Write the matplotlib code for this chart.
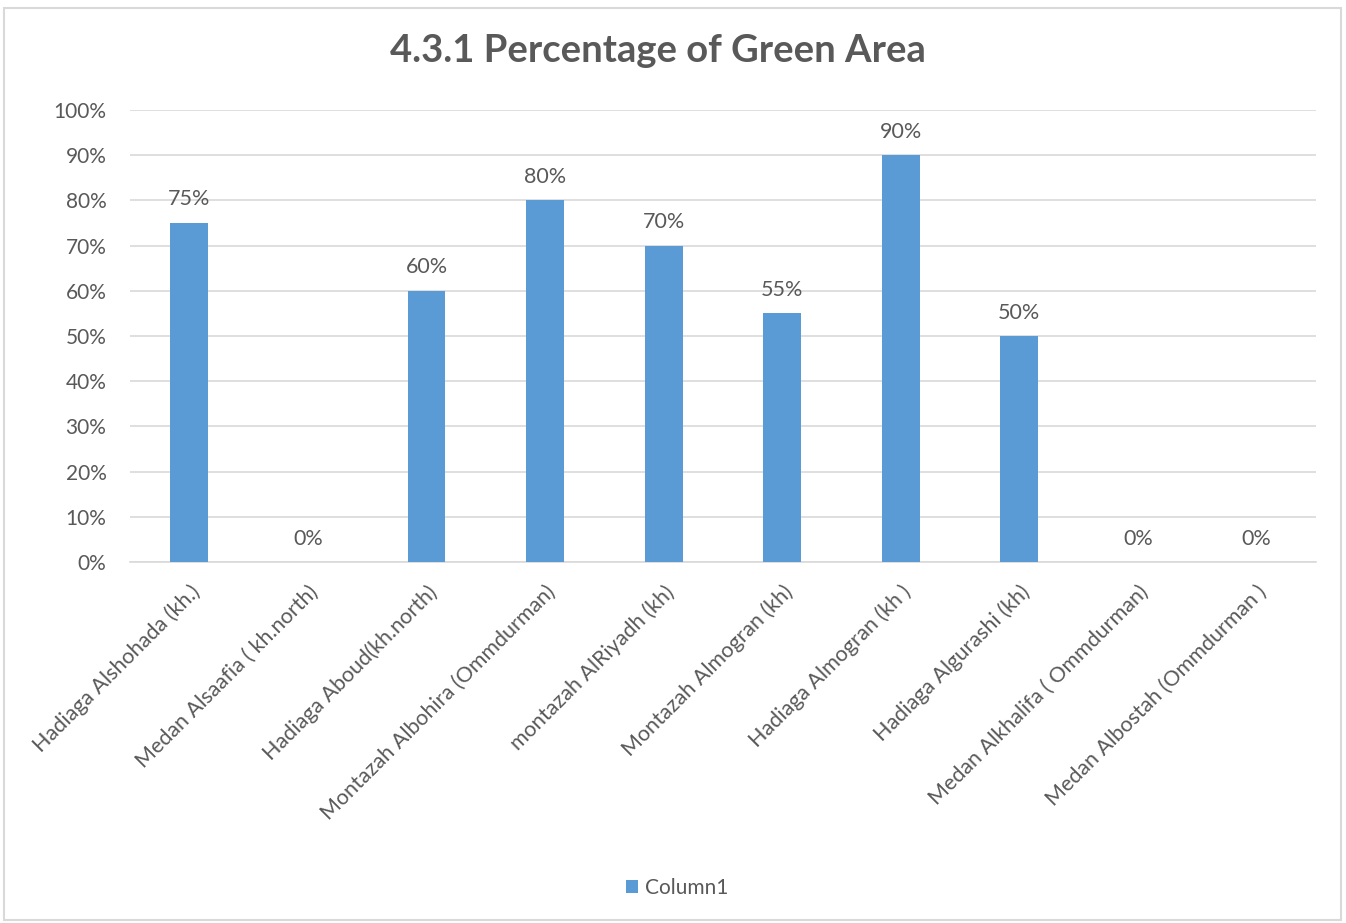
import matplotlib.pyplot as plt
from matplotlib.patches import Rectangle

plt.rcParams['font.family'] = ['Lato', 'DejaVu Sans']

sites = ['Hadiaga Alshohada (kh.)', 'Medan Alsaafia ( kh.north)', 'Hadiaga Aboud(kh.north)',
         'Montazah Albohira (Ommdurman)', 'montazah AlRiyadh (kh)', 'Montazah Almogran (kh)',
         'Hadiaga Almogran (kh )', 'Hadiaga Algurashi (kh)', 'Medan Alkhalifa ( Ommdurman)',
         'Medan Albostah (Ommdurman )']
green_pct = [75, 0, 60, 80, 70, 55, 90, 50, 0, 0]
yticks = [0, 10, 20, 30, 40, 50, 60, 70, 80, 90, 100]

txt = '#595959'
blue = '#5B9BD5'

fig = plt.figure(figsize=(13.46, 9.23), dpi=100)
fig.patches.append(Rectangle((0.003, 0.003), 0.993, 0.988, transform=fig.transFigure,
                             fill=False, edgecolor='#D9D9D9', linewidth=1.5))
ax = fig.add_axes([0.0966, 0.391, 0.881, 0.4898])

x = range(len(sites))
bars = ax.bar(x, green_pct, width=0.32, color=blue, label='Column1', zorder=3)
for xi, v in zip(x, green_pct):
    ax.text(xi, v + 3.0, f'{v}%', ha='center', va='bottom', fontsize=15.5, color=txt)

ax.set_xlim(-0.5, len(sites) - 0.5)
ax.set_ylim(0, 100)
ax.set_yticks(yticks)
ax.set_yticklabels([f'{t}%' for t in yticks], fontsize=15, color=txt)
ax.grid(axis='y', color='#D9D9D9', linewidth=1.2, zorder=0)
ax.set_xticks(list(x))
ax.set_xticklabels(sites, rotation=45, ha='right', rotation_mode='anchor',
                   fontsize=15.5, color=txt)
ax.tick_params(axis='y', length=0, pad=17)
ax.tick_params(axis='x', length=0, pad=14)
for s in ['top', 'right', 'left']:
    ax.spines[s].set_visible(False)
ax.spines['bottom'].set_color('#D9D9D9')
ax.spines['bottom'].set_linewidth(1.2)

fig.text(0.489, 0.945, '4.3.1 Percentage of Green Area', ha='center', va='center',
         fontsize=27.5, fontweight='bold', color=txt)

fig.legend(handles=[bars], labels=['Column1'], loc='center', bbox_to_anchor=(0.503, 0.038),
           frameon=False, fontsize=15, labelcolor=txt, handlelength=0.6, handleheight=0.6,
           handletextpad=0.3)

fig.savefig('out.png', dpi=100)
